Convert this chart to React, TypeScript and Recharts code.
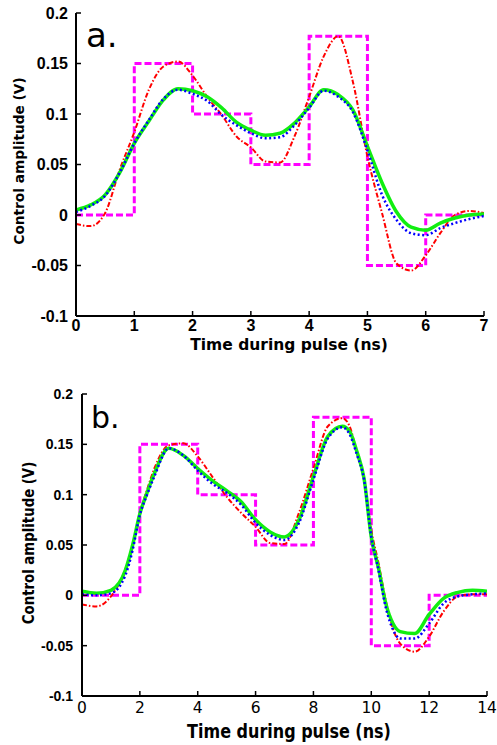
import { LineChart, Line, XAxis, YAxis } from "recharts";

// panel a: 7 ns pulse, sampled every 0.25 ns
const timeA = [0, 0.25, 0.5, 0.75, 1, 1.25, 1.5, 1.75, 2, 2.25, 2.5, 2.75, 3, 3.25, 3.5, 3.75, 4, 4.25, 4.5, 4.75, 5, 5.25, 5.5, 5.75, 6, 6.25, 6.5, 6.75, 7];
const greenA = [0.005, 0.01, 0.02, 0.042, 0.071, 0.093, 0.114, 0.125, 0.123, 0.117, 0.106, 0.092, 0.084, 0.079, 0.081, 0.091, 0.107, 0.124, 0.119, 0.104, 0.068, 0.032, 0.003, -0.012, -0.015, -0.008, -0.003, 0.0, 0.001];
const blueA = [0.003, 0.009, 0.019, 0.042, 0.071, 0.094, 0.115, 0.124, 0.12, 0.113, 0.099, 0.089, 0.081, 0.076, 0.077, 0.089, 0.106, 0.123, 0.117, 0.102, 0.064, 0.02, -0.005, -0.018, -0.02, -0.013, -0.008, -0.004, -0.001];
const redA = [-0.009, -0.011, 0.002, 0.045, 0.082, 0.124, 0.147, 0.152, 0.138, 0.117, 0.099, 0.078, 0.067, 0.053, 0.052, 0.078, 0.117, 0.157, 0.177, 0.132, 0.058, 0.002, -0.048, -0.055, -0.04, -0.018, 0.0, 0.004, 0.002];

// panel b: 14 ns pulse
const timeB = [0, 0.5, 1, 1.5, 1.75, 2, 2.25, 2.5, 3, 3.5, 4, 4.5, 5, 5.5, 6, 6.5, 7, 7.5, 8, 8.5, 9, 9.25, 9.5, 9.75, 10, 10.25, 10.5, 10.75, 11, 11.5, 12, 12.5, 13, 13.5, 14];
const greenB = [0.004, 0.002, 0.005, 0.025, 0.05, 0.081, 0.102, 0.121, 0.146, 0.139, 0.126, 0.114, 0.104, 0.093, 0.075, 0.063, 0.058, 0.075, 0.118, 0.158, 0.168, 0.163, 0.143, 0.116, 0.058, 0.027, -0.008, -0.028, -0.036, -0.038, -0.019, -0.003, 0.003, 0.005, 0.004];
const blueB = [0.001, 0.0, 0.002, 0.02, 0.045, 0.08, 0.1, 0.118, 0.146, 0.139, 0.124, 0.111, 0.102, 0.09, 0.072, 0.06, 0.055, 0.072, 0.115, 0.156, 0.167, 0.16, 0.14, 0.115, 0.058, 0.025, -0.012, -0.034, -0.043, -0.043, -0.028, -0.008, -0.001, 0.001, 0.002];
const redB = [-0.009, -0.011, -0.001, 0.026, 0.05, 0.082, 0.105, 0.126, 0.149, 0.151, 0.138, 0.118, 0.098, 0.082, 0.068, 0.052, 0.051, 0.082, 0.126, 0.168, 0.176, 0.168, 0.142, 0.115, 0.065, 0.032, -0.005, -0.033, -0.048, -0.056, -0.041, -0.016, -0.001, 0.001, 0.001];

// piecewise-constant target pulse (same levels, different slot length)
const pulseTimeA = [0, 1, 2, 3, 4, 5, 6, 7];
const pulseTimeB = [0, 2, 4, 6, 8, 10, 12, 14];
const pulseLevels = [0, 0.15, 0.1, 0.05, 0.177, -0.05, 0, 0];

const xTicksA = [0, 1, 2, 3, 4, 5, 6, 7];
const xTicksB = [0, 2, 4, 6, 8, 10, 12, 14];
const yTicks = [-0.1, -0.05, 0, 0.05, 0.1, 0.15, 0.2];

const pts = (ts: number[], vs: number[], key: string) => ts.map((t, i) => ({ t, [key]: vs[i] }));

const axisLine = { stroke: "#000", strokeWidth: 2 };
const tickLine = { stroke: "#000", strokeWidth: 1.5 };

type PanelProps = {
    times: number[];
    green: number[];
    blue: number[];
    red: number[];
    pulseTimes: number[];
    xTicks: number[];
    xMax: number;
    margin: { top: number; right: number; bottom: number; left: number };
    yWidth: number;
    yTickMargin: number;
    xTickMargin: number;
    xTickStyle: Record<string, any>;
    yTickStyle: Record<string, any>;
};

function Panel(p: PanelProps) {
    return (
        <LineChart width={497} height={365} margin={p.margin}>
            <XAxis xAxisId="b" type="number" dataKey="t" domain={[0, p.xMax]} ticks={p.xTicks} height={30}
                tickSize={-5} tickMargin={p.xTickMargin} axisLine={axisLine} tickLine={tickLine} tick={p.xTickStyle} allowDataOverflow />
            <XAxis xAxisId="t" orientation="top" type="number" dataKey="t" domain={[0, p.xMax]} ticks={p.xTicks} height={0}
                tickSize={-5} axisLine={axisLine} tickLine={tickLine} tick={false} allowDataOverflow />
            <YAxis yAxisId="l" type="number" domain={[-0.1, 0.2]} ticks={yTicks} width={p.yWidth}
                tickSize={-5} tickMargin={p.yTickMargin} axisLine={axisLine} tickLine={tickLine} tick={p.yTickStyle} allowDataOverflow />
            <YAxis yAxisId="r" orientation="right" type="number" domain={[-0.1, 0.2]} ticks={yTicks} width={0}
                tickSize={-5} axisLine={axisLine} tickLine={tickLine} tick={false} allowDataOverflow />

            <Line xAxisId="b" yAxisId="l" data={pts(p.pulseTimes, pulseLevels, "pulse")} dataKey="pulse" type="stepAfter"
                stroke="#ff00ff" strokeWidth={3} strokeDasharray="7 3" dot={false} isAnimationActive={false} />
            <Line xAxisId="b" yAxisId="l" data={pts(p.times, p.red, "red")} dataKey="red" type="monotone"
                stroke="#ff0000" strokeWidth={2} strokeDasharray="5 2 1.5 2" dot={false} isAnimationActive={false} />
            <Line xAxisId="b" yAxisId="l" data={pts(p.times, p.green, "green")} dataKey="green" type="monotone"
                stroke="#11ee11" strokeWidth={3.5} dot={false} isAnimationActive={false} />
            <Line xAxisId="b" yAxisId="l" data={pts(p.times, p.blue, "blue")} dataKey="blue" type="monotone"
                stroke="#0000ff" strokeWidth={2.5} strokeDasharray="2 2.5" dot={false} isAnimationActive={false} />
        </LineChart>
    );
}

const boldTick = (size: number) => ({ fontSize: size, fontWeight: 700, fill: "#000", fontFamily: "Liberation Sans" });

export default function App() {
    return (
        <div style={{ position: "absolute", left: 0, top: 0, width: 497, height: 745, background: "#fff" }}>
            <div style={{ position: "absolute", left: 0, top: 0 }}>
                <Panel times={timeA} green={greenA} blue={blueA} red={redA} pulseTimes={pulseTimeA}
                    xTicks={xTicksA} xMax={7} margin={{ top: 13, right: 13, bottom: 19, left: 0 }}
                    yWidth={76} yTickMargin={13} xTickMargin={9}
                    xTickStyle={boldTick(16)} yTickStyle={boldTick(16)} />
            </div>
            <div style={{ position: "absolute", left: 0, top: 380 }}>
                <Panel times={timeB} green={greenB} blue={blueB} red={redB} pulseTimes={pulseTimeB}
                    xTicks={xTicksB} xMax={14} margin={{ top: 14, right: 10, bottom: 19, left: 0 }}
                    yWidth={82} yTickMargin={14} xTickMargin={11}
                    xTickStyle={{ fontSize: 15.5, fill: "#000", fontFamily: "DejaVu Sans" }}
                    yTickStyle={boldTick(14)} />
            </div>

            {/* panel letters and axis titles */}
            <svg width={497} height={745} style={{ position: "absolute", left: 0, top: 0, pointerEvents: "none" }}
                fontFamily="DejaVu Sans" fill="#000">
                <text x={86} y={47} fontSize={34}>a.</text>
                <text x={91} y={428} fontSize={30}>b.</text>
                <text x={289} y={350} fontSize={15.5} fontWeight={700} textAnchor="middle">Time during pulse (ns)</text>
                <text transform="translate(289,738) scale(1,1.2)" fontSize={16} fontWeight={700} textAnchor="middle">Time during pulse (ns)</text>
                <text transform="translate(24,161) rotate(-90)" fontSize={13.7} fontWeight={700} textAnchor="middle">Control amplitude (V)</text>
                <text transform="translate(34,543) rotate(-90) scale(1,1.25)" fontSize={13.3} fontWeight={700} textAnchor="middle">Control amplitude (V)</text>
            </svg>
        </div>
    );
}
